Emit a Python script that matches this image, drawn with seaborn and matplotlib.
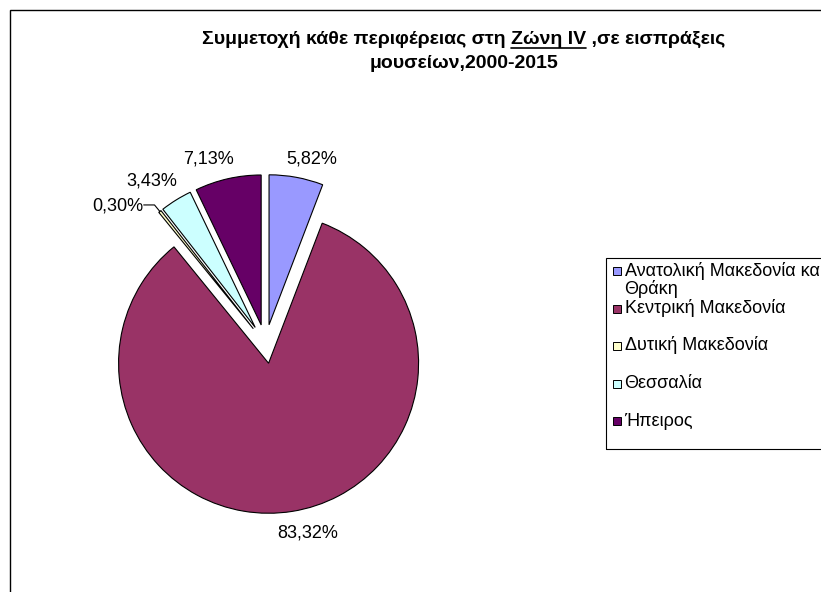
import matplotlib

matplotlib.use("Agg")

import math
import textwrap

import matplotlib.pyplot as plt
import seaborn as sns
from matplotlib.lines import Line2D
from matplotlib.patches import Rectangle

# data
regions = [
    "Ανατολική Μακεδονία και Θράκη",
    "Κεντρική Μακεδονία",
    "Δυτική Μακεδονία",
    "Θεσσαλία",
    "Ήπειρος",
]
shares = [5.82, 83.32, 0.30, 3.43, 7.13]
colors = ["#9999FF", "#993366", "#FFFFCC", "#CCFFFF", "#660066"]
title_pre = "Συμμετοχή κάθε περιφέρειας στη "
title_ul = "Ζώνη IV"
title_post = " ,σε εισπράξεις"
title_line2 = "μουσείων,2000-2015"

pct_labels = [f"{v:.2f}%".replace(".", ",") for v in shares]
# label anchor (x, baseline) in pie-radius units, around the pie centre
label_pos = [(0.308, 1.20), (0.28, -1.293), (-0.987, 0.893), (-0.757, 1.06), (-0.381, 1.20)]

sns.set_theme(style="white")
plt.rcParams["font.family"] = ["Liberation Sans", "DejaVu Sans"]
plt.rcParams["text.color"] = "black"

W, H = 821, 592
R, CX, CY = 150, 265.5, 344  # pie radius and centre, px from top-left


def fx(x):
    return x / W


def fy(y):
    return 1 - y / H


fig = plt.figure(figsize=(W / 100, H / 100), dpi=100)
fig.patch.set_facecolor("white")

ax = fig.add_axes([0, 0, 1, 1])
wedges, _ = ax.pie(
    shares,
    colors=colors,
    startangle=90,
    counterclock=False,
    explode=[0.13] * len(shares),
    radius=1,
    wedgeprops=dict(edgecolor="black", linewidth=0.8),
)
ax.set_xlim(-CX / R, (W - CX) / R)
ax.set_ylim(-(H - CY) / R, CY / R)
ax.set_aspect("equal")
ax.axis("off")

for txt, (x, y) in zip(pct_labels, label_pos):
    ax.text(x, y, txt, ha="center", va="baseline", fontsize=13, color="black")

# leader line for the tiny slice
w = wedges[2]
tm = math.radians((w.theta1 + w.theta2) / 2)
tip = (w.center[0] + w.r * math.cos(tm), w.center[1] + w.r * math.sin(tm))
ax.plot([-0.812, -0.74, tip[0]], [0.927, 0.927, tip[1]], color="black", lw=0.8)

# title with underlined part
TS = 14
t1 = fig.text(fx(463.5), fy(44), title_pre + title_ul + title_post,
              ha="center", va="baseline", fontsize=TS, fontweight="bold")
fig.text(fx(463.5), fy(68), title_line2, ha="center", va="baseline",
         fontsize=TS, fontweight="bold")
fig.canvas.draw()
renderer = fig.canvas.get_renderer()
x0 = t1.get_window_extent(renderer).x0
tmp = fig.text(0, 0, title_pre + title_ul, fontsize=TS, fontweight="bold")
w_pre_ul = tmp.get_window_extent(renderer).width
tmp.set_text(title_ul)
w_ul = tmp.get_window_extent(renderer).width
tmp.remove()
x_end = x0 + w_pre_ul
fig.add_artist(Line2D([(x_end - w_ul) / W, x_end / W], [fy(47.5), fy(47.5)],
                      transform=fig.transFigure, color="black", lw=1.2))

# legend
fig.add_artist(Rectangle((fx(606), fy(449)), 1, (449 - 258) / H, fill=False,
                         ec="black", lw=0.8, transform=fig.transFigure))
for i, (name, col) in enumerate(zip(regions, colors)):
    yc = 271 + 37.5 * i
    fig.add_artist(Rectangle((fx(612.5), fy(yc + 4)), 8 / W, 8 / H,
                             fc=col, ec="black", lw=0.7, transform=fig.transFigure))
    for j, line in enumerate(textwrap.wrap(name, 24)):
        fig.text(fx(624.5), fy(yc + 4.5 + 19 * j), line, fontsize=13, va="baseline")

# chart area border
fig.add_artist(Rectangle((fx(9.5), -0.1), 1.5, fy(10) + 0.1, fill=False,
                         ec="black", lw=1, transform=fig.transFigure))

fig.savefig("out.png", dpi=100)
plt.close(fig)
